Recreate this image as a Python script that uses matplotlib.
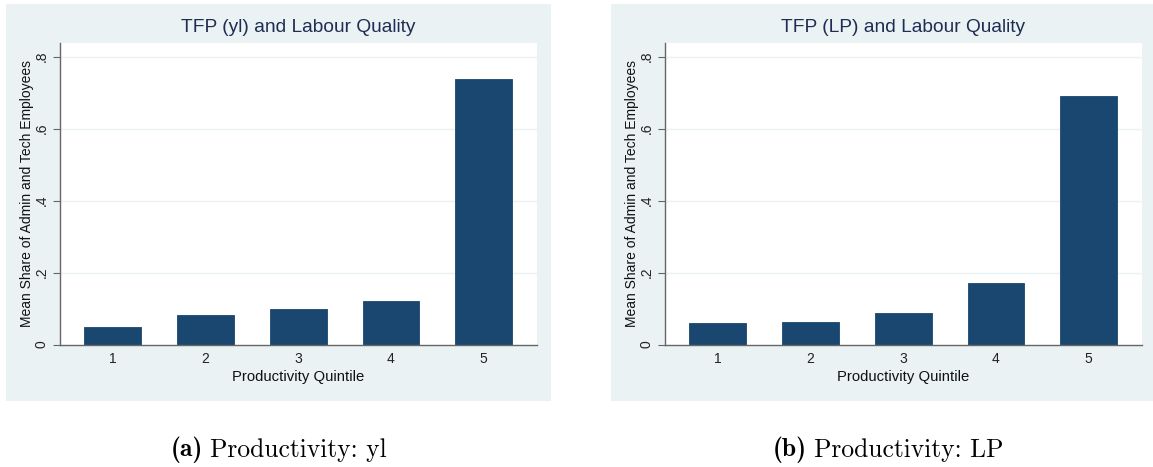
import matplotlib
matplotlib.use("Agg")
import matplotlib.pyplot as plt
from matplotlib.patches import Rectangle

quintiles = [1, 2, 3, 4, 5]
share_yl = [0.050, 0.083, 0.099, 0.122, 0.737]
share_lp = [0.059, 0.064, 0.088, 0.171, 0.692]
titles = ["TFP (yl) and Labour Quality", "TFP (LP) and Labour Quality"]
captions_bold = ["(a)", "(b)"]
captions = ["Productivity: yl", "Productivity: LP"]
yticks = [0, 0.2, 0.4, 0.6, 0.8]
yticklabels = ["0", ".2", ".4", ".6", ".8"]

W, H = 1153, 467
BG = "#EAF2F3"
BAR = "#1A476F"
TITLE_C = "#1E2D53"
FONT = "Liberation Sans"

fig = plt.figure(figsize=(W / 100, H / 100), dpi=100)
fig.patch.set_facecolor("white")

def px_rect(x0, y0, x1, y1):
    return [x0 / W, 1 - y1 / H, (x1 - x0) / W, (y1 - y0) / H]

panels = [
    dict(bg=(6, 4, 551, 401), ax=(59.5, 43, 537, 344.6), data=share_yl, cap_x=279),
    dict(bg=(611, 4, 1153, 401), ax=(664.5, 43, 1142, 344.6), data=share_lp, cap_x=881),
]

for i, p in enumerate(panels):
    bx0, by0, bx1, by1 = p["bg"]
    fig.add_artist(Rectangle((bx0 / W, 1 - by1 / H), (bx1 - bx0) / W, (by1 - by0) / H,
                             transform=fig.transFigure, facecolor=BG, edgecolor="none", zorder=0))
    ax = fig.add_axes(px_rect(*p["ax"]))
    ax_w = p["ax"][2] - p["ax"][0]
    ax_h = p["ax"][3] - p["ax"][1]
    ax.set_facecolor("white")
    ax.bar(quintiles, p["data"], width=0.611, color=BAR, edgecolor=BAR, linewidth=0.6, zorder=3)
    ax.set_xlim(0.425, 5.575)
    ax.set_ylim(0, 0.838)
    ax.set_yticks(yticks)
    ax.set_yticklabels(yticklabels, rotation=90, va="center", fontsize=10, family=FONT, color="#222222")
    for y in yticks[1:]:
        ax.axhline(y, color=BG, linewidth=1.0, zorder=1)
    ax.set_xticks(quintiles)
    ax.set_xticklabels([str(q) for q in quintiles], fontsize=10, family=FONT, color="#222222")
    ax.tick_params(axis="x", length=0, pad=5)
    ax.tick_params(axis="y", length=5, width=0.8, color="#666666", pad=3)
    for s in ["top", "right"]:
        ax.spines[s].set_visible(False)
    for s in ["left", "bottom"]:
        ax.spines[s].set_color("#666666")
        ax.spines[s].set_linewidth(1.0)
        ax.spines[s].set_zorder(4)
    ax.set_xlabel("Productivity Quintile", fontsize=10.7, family=FONT, color="#111111", labelpad=3)
    ax.set_ylabel("Mean Share of Admin and Tech Employees", fontsize=10, family=FONT, color="#111111")
    ax.yaxis.set_label_coords(-25.5 / ax_w, 0.5)
    ax.text(0.5, 1 + (43 - 28) / ax_h, titles[i], transform=ax.transAxes, ha="center", va="center",
            fontsize=13.8, family=FONT, color=TITLE_C)
    t1 = fig.text(p["cap_x"] / W - 0.0935, 1 - 450 / H, captions_bold[i], family="cmb10",
                  fontsize=18.4, va="center", ha="left")
    ax.annotate(captions[i], xy=(1, 0.5), xycoords=t1, xytext=(5, 0), textcoords="offset points",
                family="cmr10", fontsize=18.4, va="center", ha="left", annotation_clip=False)

fig.savefig("out.png", dpi=100, facecolor="white")
